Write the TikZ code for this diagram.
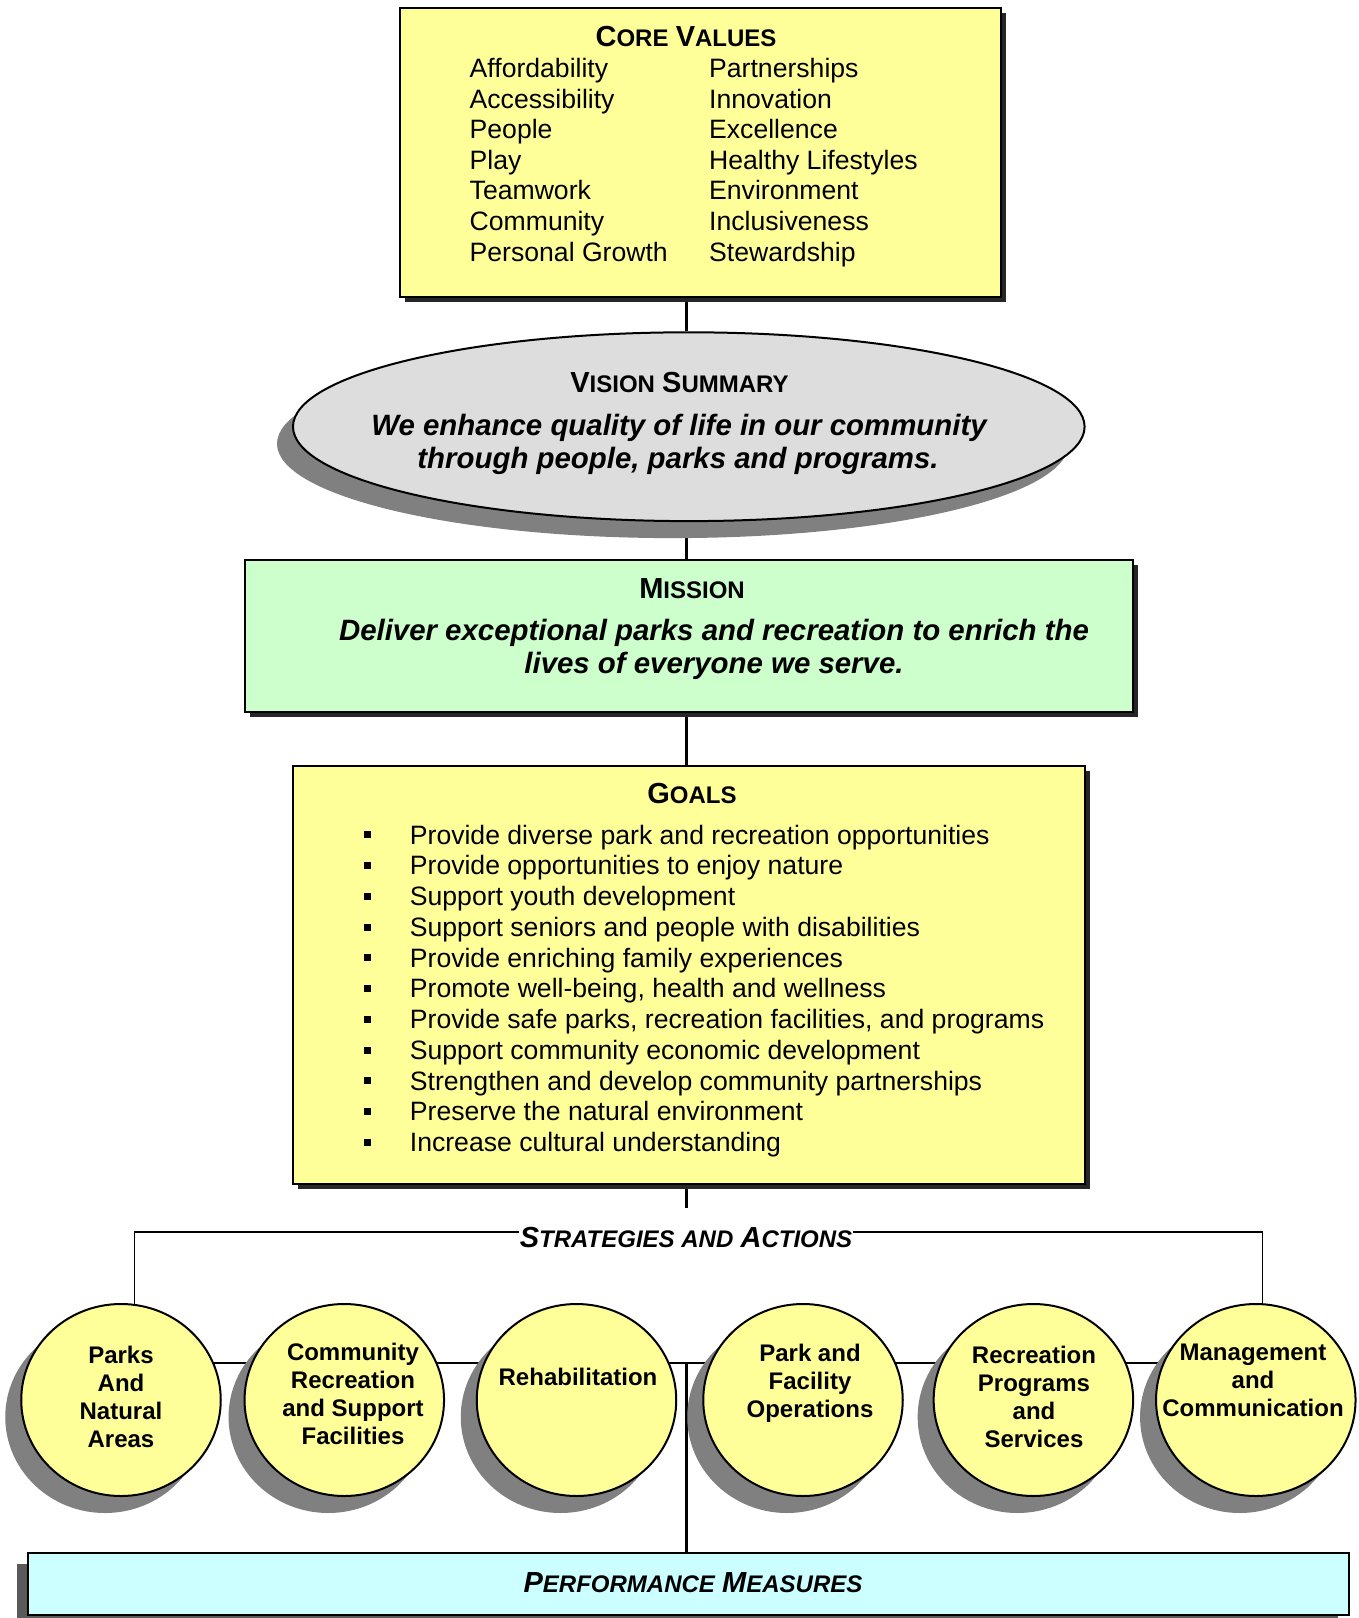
\documentclass[tikz,border=0pt]{standalone}
\usepackage{xcolor}
\usepackage{fontspec}
\setmainfont{Liberation Sans}
\usetikzlibrary{shapes.geometric, shadows}

\definecolor{paleyellow}{RGB}{255,255,153}
\definecolor{palegreen}{RGB}{204,255,204}
\definecolor{palecyan}{RGB}{204,255,255}
\definecolor{lightgrey}{RGB}{221,221,221}
\definecolor{shadegrey}{RGB}{128,128,128}

\newcommand{\capsc}[2]{{\fontsize{29}{34}\selectfont #1}{\fontsize{24}{29}\selectfont #2}}

\pgfdeclarelayer{bg}
\pgfsetlayers{bg,main}

\tikzset{
  bodytext/.style={font=\fontsize{26.6}{30}\selectfont, inner sep=0pt},
  headtext/.style={font=\bfseries\fontsize{26}{30}\selectfont, inner sep=0pt},
  slogan/.style={font=\bfseries\itshape\fontsize{29.4}{33}\selectfont, inner sep=0pt},
  stratext/.style={font=\bfseries\itshape\fontsize{26}{30}\selectfont, inner xsep=1pt, inner ysep=0pt},
  bubbletext/.style={font=\bfseries\fontsize{24}{28}\selectfont, align=center, inner sep=0pt},
  darkbox/.style={draw, line width=2pt, fill=#1, inner sep=0pt,
    drop shadow={shadow xshift=5pt, shadow yshift=-5pt, fill=black!85, opacity=1}},
  greyshade/.style={draw, line width=2pt, fill=#1, inner sep=0pt,
    drop shadow={shadow xshift=-16pt, shadow yshift=-17pt, fill=shadegrey, opacity=1}},
  bubble/.style={ellipse, greyshade=paleyellow, minimum width=199.5pt, minimum height=192pt},
  link/.style={line width=3pt},
  thinlink/.style={line width=1.6pt},
  midlink/.style={line width=2.2pt},
}

\begin{document}
\begin{tikzpicture}[x=1pt,y=1pt,yscale=-1,xscale=1]
\useasboundingbox (0,0) rectangle (1359,1618);
\coordinate (spine) at (686,0);

% Core values
\node[darkbox=paleyellow, minimum width=601pt, minimum height=289pt] (cvbox) at (700.5,152.5) {};
\node[headtext, anchor=base] (cvtitle) at (686,46.5) {\capsc{C}{ORE} \capsc{V}{ALUES}};
\foreach \v [count=\i] in {Affordability, Accessibility, People, Play, Teamwork, Community, Personal Growth}
  \node[bodytext, anchor=base west] (cvl\i) at (469.5, 46.8+30.6*\i) {\v};
\foreach \v [count=\i] in {Partnerships, Innovation, Excellence, Healthy Lifestyles, Environment, Inclusiveness, Stewardship}
  \node[bodytext, anchor=base west] (cvr\i) at (709, 46.8+30.6*\i) {\v};

% Vision summary
\node[ellipse, greyshade=lightgrey, minimum width=791.6pt, minimum height=188.8pt, shadow xshift=-16.5pt] (vision) at (688.8,426.7) {};
\node[headtext, anchor=base] (vtitle) at (679.5,392.2) {\capsc{V}{ISION} \capsc{S}{UMMARY}};
\node[slogan, anchor=base] (vline1) at (679,435.6) {We enhance quality of life in our community};
\node[slogan, anchor=base] (vline2) at (678,468.6) {through people, parks and programs.};

% Mission
\node[darkbox=palegreen, minimum width=888.4pt, minimum height=151.7pt] (mission) at (688.8,636.2) {};
\node[headtext, anchor=base] (mtitle) at (692,598.6) {\capsc{M}{ISSION}};
\node[slogan, anchor=base] (mline1) at (714,640.9) {Deliver exceptional parks and recreation to enrich the};
\node[slogan, anchor=base] (mline2) at (714,673.9) {lives of everyone we serve.};

% Goals
\node[darkbox=paleyellow, minimum width=791.6pt, minimum height=418pt] (goals) at (688.8,974.7) {};
\node[headtext, anchor=base] (gtitle) at (692,803.9) {\capsc{G}{OALS}};
\foreach \g [count=\i] in {Provide diverse park and recreation opportunities,
    Provide opportunities to enjoy nature,
    Support youth development,
    Support seniors and people with disabilities,
    Provide enriching family experiences,
    {Promote well-being, health and wellness},
    {Provide safe parks, recreation facilities, and programs},
    Support community economic development,
    Strengthen and develop community partnerships,
    Preserve the natural environment,
    Increase cultural understanding}{
  \fill (364, 800.55+30.75*\i) rectangle ++(7,7);
  \node[bodytext, anchor=base west] (goal\i) at (409.7, 813.35+30.75*\i) {\g};
}

% Strategies and actions
\node[stratext, anchor=base] (strat) at (686,1247.4) {\capsc{S}{\fontsize{24}{29}\selectfont TRATEGIES AND} \capsc{A}{CTIONS}};
\coordinate (gstub) at (686,1208);
\coordinate (lcorner) at (134.5,1232);
\coordinate (rcorner) at (1262.5,1232);
\coordinate (hub) at (686,1363);

\foreach \nm/\cx in {c1/121, c2/344.3, c3/576.5, c4/803, c5/1033.4, c6/1255.8}
  \node[bubble] (\nm) at (\cx,1400) {};
\node[bubbletext] (t1) at (121,1397) {Parks\\And\\Natural\\Areas};
\node[bubbletext] (t2) at (353,1393.6) {Community\\Recreation\\and Support\\Facilities};
\node[bubbletext] (t3) at (578,1376.6) {Rehabilitation};
\node[bubbletext] (t4) at (810,1383) {Park and\\Facility\\Operations};
\node[bubbletext] (t5) at (1034,1397) {Recreation\\Programs\\and\\Services};
\node[bubbletext] (t6) at (1253,1380) {Management\\and\\Communication};

% Performance measures
\node[rectangle, draw, line width=2pt, fill=palecyan, minimum width=1321pt, minimum height=62pt,
  drop shadow={shadow xshift=-11pt, shadow yshift=-11pt, fill=shadegrey!70!black, opacity=1}] (perf) at (688.5,1584) {};
\node[stratext, anchor=base] (perftext) at (693,1592.4) {\capsc{P}{ERFORMANCE} \capsc{M}{EASURES}};

% connectors
\begin{pgfonlayer}{bg}
\draw[link] (spine |- cvbox.south) -- (spine |- vision.north);
\draw[link] (spine |- vision.south) -- (spine |- mission.north);
\draw[link] (spine |- mission.south) -- (spine |- goals.north);
\draw[link] (spine |- goals.south) -- (gstub);
\draw[thinlink] (lcorner |- c1.center) -- (lcorner) -- (strat.west |- lcorner);
\draw[thinlink] (strat.east |- rcorner) -- (rcorner) -- (rcorner |- c6.center);
\draw[midlink] (c1.center |- hub) -- (c6.center |- hub);
\draw[link] (hub) -- (hub |- perf.north);
\end{pgfonlayer}

\end{tikzpicture}
\end{document}
